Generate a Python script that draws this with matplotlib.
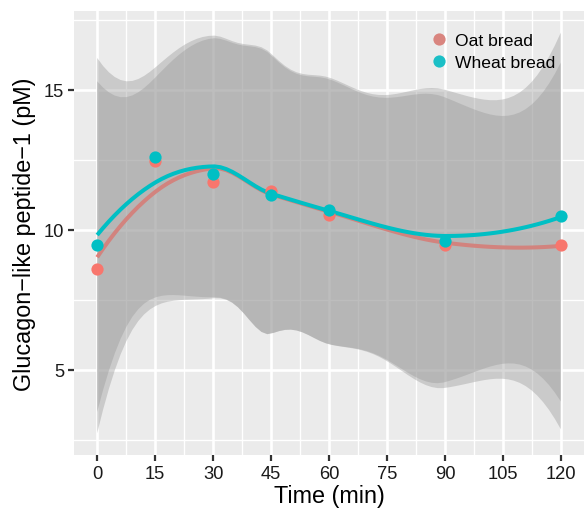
import numpy as np
import matplotlib
matplotlib.use('Agg')
import matplotlib.pyplot as plt
from matplotlib.lines import Line2D

# sampling times (min)
time_min = [0, 15, 30, 45, 60, 90, 120]
# GLP-1 means (pM)
oat_glp1 = [8.6, 12.45, 11.7, 11.4, 10.55, 9.45, 9.45]
wheat_glp1 = [9.45, 12.6, 12.0, 11.25, 10.7, 9.6, 10.5]
# half width of the 95% band per unit of smoother norm (read from the ribbons)
band_scale = [6.66, 6.70]

group_names = ['Oat bread', 'Wheat bread']
group_colors = ['#F8766D', '#00BFC4']
legend_colors = ['#D9857F', '#1BBFC6']

x_breaks = [0, 15, 30, 45, 60, 75, 90, 105, 120]
y_breaks = [5, 10, 15]


def kd_vertices(xs):
    # 1-d version of loess' kd tree: cells are split at the median point
    xs = np.sort(np.asarray(xs, float))
    mu = 0.005 * (xs[-1] - xs[0])
    verts = {xs[0] - mu, xs[-1] + mu}

    def split(lo, hi, pts):
        if len(pts) <= 1:
            return
        m = (len(pts) + 1) // 2 - 1
        t = pts[m]
        if t == lo or t == hi:
            return
        verts.add(t)
        split(lo, t, pts[:m + 1])
        split(t, hi, pts[m + 1:])

    split(xs[0] - mu, xs[-1] + mu, list(xs))
    return np.array(sorted(verts))


def loess_rows(x, x_new, nn=6):
    # local quadratic, tricube weights, hermite interpolation between vertices
    # (span 0.75 on replicated time points -> 6th nearest time sets the bandwidth)
    x = np.asarray(x, float)
    n = len(x)

    def local_rows(x0):
        d = np.abs(x - x0)
        h = np.sort(d)[nn - 1]
        w = np.clip(1 - (d / h) ** 3, 0, None) ** 3
        u = (x - x0) / h
        X = np.column_stack([np.ones(n), u, u ** 2])
        XtW = X.T * w
        B = np.linalg.pinv(XtW @ X) @ XtW
        return B[0], B[1] / h

    verts = kd_vertices(x)
    vrows = [local_rows(v) for v in verts]

    def operator_row(z):
        i = int(np.clip(np.searchsorted(verts, z, side='right') - 1, 0, len(verts) - 2))
        a, b = verts[i], verts[i + 1]
        dx = b - a
        s = (z - a) / dx
        phi0 = (1 - s) ** 2 * (1 + 2 * s)
        phi1 = s ** 2 * (3 - 2 * s)
        psi0 = s * (1 - s) ** 2
        psi1 = -s ** 2 * (1 - s)
        return (phi0 * vrows[i][0] + phi1 * vrows[i + 1][0]
                + (psi0 * vrows[i][1] + psi1 * vrows[i + 1][1]) * dx)

    return np.array([operator_row(z) for z in x_new])


plt.rcParams['font.family'] = ['Liberation Sans', 'DejaVu Sans']

fig = plt.figure(figsize=(5.84, 5.10), dpi=100)
ax = fig.add_axes([74 / 584, 54 / 510, 510 / 584, 444 / 510])
ax.set_facecolor('#EBEBEB')

x_grid = np.linspace(min(time_min), max(time_min), 80)
rows = loess_rows(time_min, x_grid)
row_norm = np.sqrt((rows ** 2).sum(axis=1))

# smooth lines + bands, one group after the other (as ggplot does),
# so the wheat ribbon lies over the oat line
for i, (vals, col, sc) in enumerate(zip([oat_glp1, wheat_glp1], group_colors, band_scale)):
    fit = rows @ np.asarray(vals, float)
    ax.fill_between(x_grid, fit - sc * row_norm, fit + sc * row_norm,
                    facecolor='#999999', alpha=0.4, lw=0, zorder=2 + 2 * i)
    ax.plot(x_grid, fit, color=col, lw=2.9, zorder=3 + 2 * i, solid_capstyle='butt')

# points on top
for vals, col in zip([oat_glp1, wheat_glp1], group_colors):
    ax.plot(time_min, vals, 'o', color=col, ms=8.8, mec='none', zorder=10)

# axes
ax.set_xticks(x_breaks)
ax.set_yticks(y_breaks)
ax.set_xticks([b + 7.5 for b in x_breaks[:-1]], minor=True)
ax.set_yticks([2.5, 7.5, 12.5, 17.5], minor=True)
ax.set_xlim(-6, 126)
ax.set_ylim(1.96, 17.82)
ax.grid(which='major', color='white', lw=1.9)
ax.grid(which='minor', color='white', lw=1.0)
ax.set_axisbelow(True)
for s in ax.spines.values():
    s.set_visible(False)
ax.tick_params(which='major', length=4, width=1.6, color='#333333',
               labelsize=13.2, labelcolor='#1A1A1A', pad=3)
ax.tick_params(which='minor', length=0)

ax.set_xlabel('Time (min)', fontsize=16.8, labelpad=2)
ax.set_ylabel('Glucagon\u2212like peptide\u22121 (pM)', fontsize=16.8, labelpad=6)

handles = [Line2D([], [], ls='none', marker='o', ms=8.8, mec='none', color=c) for c in legend_colors]
leg = ax.legend(handles, group_names, loc='upper right', bbox_to_anchor=(0.968, 0.978),
                frameon=False, fontsize=12.6, handlelength=0.9, handletextpad=0.5,
                labelspacing=0.35, borderpad=0.2)
leg.set_zorder(12)

fig.savefig('out.png', dpi=100)
